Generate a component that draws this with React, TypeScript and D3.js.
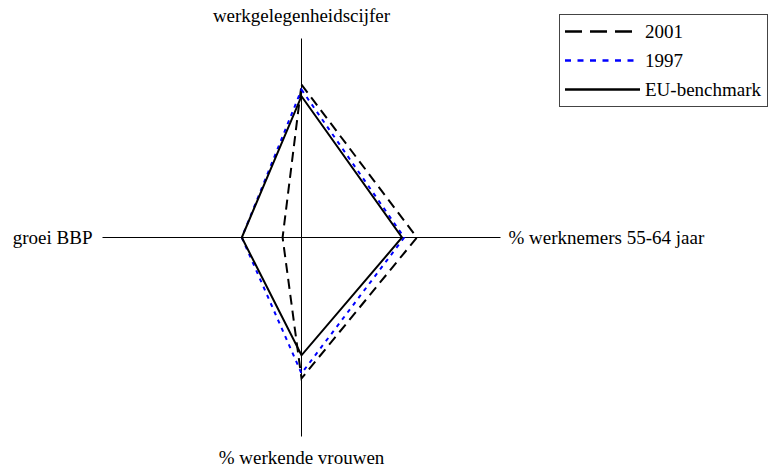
import React from "react";
import * as d3 from "d3";

const axes = ["werkgelegenheidscijfer", "% werknemers 55-64 jaar", "% werkende vrouwen", "groei BBP"];
const series2001 = [76.8, 58, 70.8, 9.5];
const series1997 = [74.3, 51.6, 68.3, 30];
const seriesEU = [71, 50.5, 59.2, 30];
const legendLabels = ["2001", "1997", "EU-benchmark"];

const W = 770;
const H = 470;
const cx = 301.5;
const cy = 237.5;
const R = 199;
const font = "'Liberation Serif', 'Times New Roman', Tinos, 'DejaVu Serif', 'Noto Serif', serif";

export default function App() {
  const r = d3.scaleLinear().domain([0, 100]).range([0, R]);
  const angle = d3
    .scaleOrdinal<string, number>()
    .domain(axes)
    .range(axes.map((_, i) => (i * 2 * Math.PI) / axes.length));
  const line = d3
    .lineRadial<number>()
    .angle((_, i) => angle(axes[i]))
    .radius((d) => r(d))
    .curve(d3.curveLinearClosed);

  const series = [
    { name: legendLabels[0], values: series2001, color: "#000", dash: "10,6", width: 2, ldash: "17,8" },
    { name: legendLabels[1], values: series1997, color: "#0000ff", dash: "4,5", width: 2, ldash: "6,6.5" },
    { name: legendLabels[2], values: seriesEU, color: "#000", dash: "none", width: 2, ldash: "none" },
  ];

  const pt = (i: number, v: number) => {
    const a = angle(axes[i]);
    return [cx + Math.sin(a) * r(v), cy - Math.cos(a) * r(v)];
  };

  const [tx, ty] = pt(0, 100);
  const [rx, ry] = pt(1, 100);
  const [bx, by] = pt(2, 100);
  const [lx, ly] = pt(3, 100);
  const ts = { fontFamily: font, fontSize: "19px" } as React.CSSProperties;

  return (
    <svg width={W} height={H} style={{ position: "absolute", left: 0, top: 0, background: "#fff" }}>
      {axes.map((a, i) => {
        const [x, y] = pt(i, 100);
        return <line key={a} x1={cx} y1={cy} x2={x} y2={y} stroke="#000" strokeWidth={1} />;
      })}
      <text x={tx} y={ty - 17} style={ts} textAnchor="middle">{axes[0]}</text>
      <text x={rx + 8} y={ry} style={ts} textAnchor="start" dominantBaseline="central">{axes[1]}</text>
      <text x={bx} y={by + 27} style={ts} textAnchor="middle">{axes[2]}</text>
      <text x={lx - 10} y={ly} style={ts} textAnchor="end" dominantBaseline="central">{axes[3]}</text>

      <g transform={`translate(${cx},${cy})`}>
        {series.map((s) => (
          <path
            key={s.name}
            d={line(s.values) || ""}
            fill="none"
            stroke={s.color}
            strokeWidth={s.width}
            strokeDasharray={s.dash}
            strokeLinejoin="miter"
          />
        ))}
      </g>

      <rect x={559.5} y={14.5} width={208} height={92} fill="#fff" stroke="#444" strokeWidth={1} />
      {series.map((s, i) => {
        const y = 31.5 + i * 29;
        return (
          <g key={s.name}>
            <line x1={565} x2={640} y1={y} y2={y} stroke={s.color} strokeWidth={s.width + 0.5} strokeDasharray={s.ldash} />
            <text x={645} y={y} style={ts} dominantBaseline="central">{s.name}</text>
          </g>
        );
      })}
    </svg>
  );
}
